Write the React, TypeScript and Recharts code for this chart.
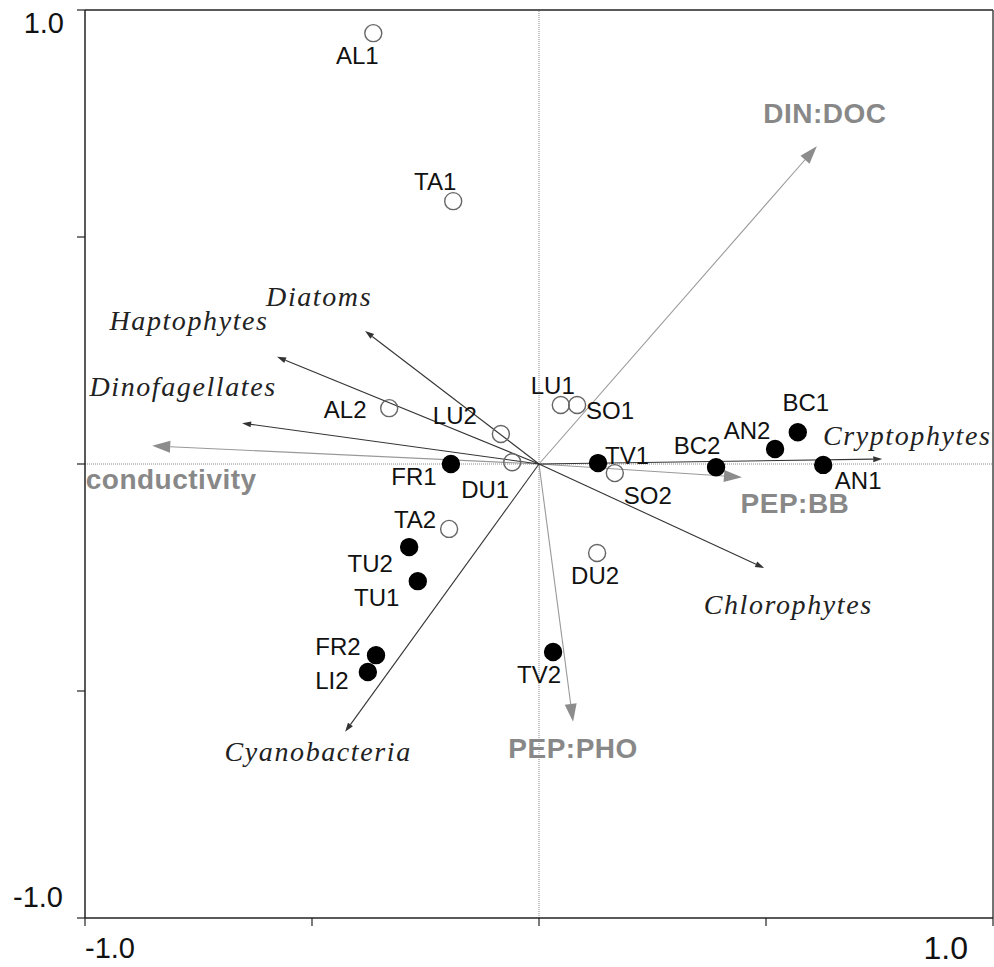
import { ScatterChart, Scatter, XAxis, YAxis, ReferenceLine } from 'recharts'

// site scores (open = first sampling, filled = second)
const openSites = [
  { name: 'AL1', x: -0.365, y: 0.949 },
  { name: 'TA1', x: -0.189, y: 0.579 },
  { name: 'AL2', x: -0.33, y: 0.123 },
  { name: 'LU2', x: -0.084, y: 0.066 },
  { name: 'DU1', x: -0.059, y: 0.004 },
  { name: 'LU1', x: 0.048, y: 0.13 },
  { name: 'SO1', x: 0.084, y: 0.13 },
  { name: 'SO2', x: 0.167, y: -0.02 },
  { name: 'TA2', x: -0.198, y: -0.143 },
  { name: 'DU2', x: 0.128, y: -0.196 },
]

const filledSites = [
  { name: 'FR1', x: -0.194, y: 0.0 },
  { name: 'TV1', x: 0.13, y: 0.002 },
  { name: 'BC2', x: 0.39, y: -0.007 },
  { name: 'AN2', x: 0.52, y: 0.033 },
  { name: 'BC1', x: 0.57, y: 0.07 },
  { name: 'AN1', x: 0.626, y: -0.002 },
  { name: 'TU2', x: -0.286, y: -0.183 },
  { name: 'TU1', x: -0.267, y: -0.258 },
  { name: 'FR2', x: -0.359, y: -0.421 },
  { name: 'LI2', x: -0.377, y: -0.458 },
  { name: 'TV2', x: 0.031, y: -0.414 },
]

// species (response) arrows
const speciesArrows = [
  { name: 'Diatoms', x: -0.383, y: 0.293 },
  { name: 'Haptophytes', x: -0.577, y: 0.236 },
  { name: 'Dinofagellates', x: -0.654, y: 0.09 },
  { name: 'Cryptophytes', x: 0.756, y: 0.011 },
  { name: 'Chlorophytes', x: 0.496, y: -0.229 },
  { name: 'Cyanobacteria', x: -0.427, y: -0.59 },
]

// explanatory variables
const envArrows = [
  { name: 'DIN:DOC', x: 0.612, y: 0.7 },
  { name: 'conductivity', x: -0.852, y: 0.04 },
  { name: 'PEP:BB', x: 0.447, y: -0.029 },
  { name: 'PEP:PHO', x: 0.075, y: -0.568 },
]

const axisTicks = [-1, -0.5, 0, 0.5, 1]

// label placement, px from the point / arrow tip
const siteLabelOffset: Record<string, [number, number]> = {
  AL1: [-16, 22], TA1: [-18, -20], AL2: [-44, 1], LU2: [-46, -19], DU1: [-27, 27],
  LU1: [-8, -20], SO1: [33, 5], SO2: [33, 22], TA2: [-34, -10], DU2: [-2, 22],
  FR1: [-37, 12], TV1: [29, -8], BC2: [-19, -22], AN2: [-28, -19], BC1: [8, -30],
  AN1: [35, 15], TU2: [-39, 16], TU1: [-41, 16], FR2: [-38, -9], LI2: [-36, 8], TV2: [-14, 22],
}

const arrowLabelOffset: Record<string, [number, number]> = {
  Diatoms: [-46, -33], Haptophytes: [-88, -35], Dinofagellates: [-59, -36],
  Cryptophytes: [25, -22], Chlorophytes: [24, 38], Cyanobacteria: [-27, 21],
  'DIN:DOC': [8, -33], conductivity: [19, 33], 'PEP:BB': [53, 26], 'PEP:PHO': [0, 26],
}

const sans = '"Liberation Sans", Arial, sans-serif'
const serif = '"Liberation Serif", "Times New Roman", serif'

const arrowShape = (name: string, env: boolean) => (props: any) => {
  const { x1, y1, x2, y2 } = props
  const ang = Math.atan2(y2 - y1, x2 - x1)
  const len = env ? 18 : 9
  const half = env ? 6 : 3
  const bx = x2 - len * Math.cos(ang)
  const by = y2 - len * Math.sin(ang)
  const px = -Math.sin(ang) * half
  const py = Math.cos(ang) * half
  const [dx, dy] = arrowLabelOffset[name]
  const col = env ? '#8c8c8c' : '#333'
  return (
    <g>
      <line x1={x1} y1={y1} x2={bx} y2={by} stroke={env ? '#999' : '#333'} strokeWidth={1.1} />
      <polygon points={`${x2},${y2} ${bx + px},${by + py} ${bx - px},${by - py}`} fill={col} />
      {env ? (
        <text x={x2 + dx} y={y2 + dy} dy="0.36em" textAnchor="middle" fontFamily={sans}
          fontWeight="bold" fontSize={28} letterSpacing={0.5} fill="#888">{name}</text>
      ) : (
        <text x={x2 + dx} y={y2 + dy} dy="0.3em" textAnchor="middle" fontFamily={serif}
          fontStyle="italic" fontSize={28} letterSpacing={1.6} fill="#222">{name}</text>
      )}
    </g>
  )
}

const siteShape = (filled: boolean) => (props: any) => {
  const { cx, cy, payload } = props
  const [dx, dy] = siteLabelOffset[payload.name]
  return (
    <g>
      <circle cx={cx} cy={cy} r={8.5} fill={filled ? '#000' : 'none'}
        stroke={filled ? '#000' : '#666'} strokeWidth={1.4} />
      <text x={cx + dx} y={cy + dy} dy="0.36em" textAnchor="middle" fontFamily={sans}
        fontSize={24} fill="#111">{payload.name}</text>
    </g>
  )
}

const XTick = (props: any) => {
  const { x, y, payload } = props
  if (payload.value === -1)
    return <text x={x} y={y + 30} textAnchor="start" fontFamily={sans} fontSize={29} fill="#111">-1.0</text>
  if (payload.value === 1)
    return <text x={x - 25} y={y + 31} textAnchor="end" fontFamily={sans} fontSize={32} fill="#111">1.0</text>
  return <g />
}

const YTick = (props: any) => {
  const { x, y, payload } = props
  if (payload.value === 1)
    return <text x={x - 11} y={y + 23} textAnchor="end" fontFamily={sans} fontSize={29} fill="#111">1.0</text>
  if (payload.value === -1)
    return <text x={x - 12} y={y - 11} textAnchor="end" fontFamily={sans} fontSize={29} fill="#111">-1.0</text>
  return <g />
}

export default function App() {
  return (
    <div style={{ position: 'absolute', left: 0, top: 0, background: '#fff' }}>
      <ScatterChart width={994} height={967} margin={{ top: 10, right: 1, bottom: 0, left: 0 }}>
        <XAxis type="number" dataKey="x" domain={[-1, 1]} ticks={axisTicks} interval={0}
          height={49} tickSize={8} tickMargin={2} tick={XTick}
          axisLine={{ stroke: '#222', strokeWidth: 1.5 }} tickLine={{ stroke: '#222', strokeWidth: 1.2 }} />
        <YAxis type="number" dataKey="y" domain={[-1, 1]} ticks={axisTicks} interval={0}
          width={85} tickSize={8} tickMargin={2} tick={YTick}
          axisLine={{ stroke: '#222', strokeWidth: 1.5 }} tickLine={{ stroke: '#222', strokeWidth: 1.2 }} />
        <ReferenceLine y={1} stroke="#222" strokeWidth={1.5} />
        <ReferenceLine x={1} stroke="#444" strokeWidth={1.5} />
        <ReferenceLine x={0} stroke="#888" strokeDasharray="1 1" />
        <ReferenceLine y={0} stroke="#888" strokeDasharray="1 1" />
        {envArrows.map((a) => (
          <ReferenceLine key={a.name} segment={[{ x: 0, y: 0 }, { x: a.x, y: a.y }]}
            shape={arrowShape(a.name, true)} />
        ))}
        {speciesArrows.map((a) => (
          <ReferenceLine key={a.name} segment={[{ x: 0, y: 0 }, { x: a.x, y: a.y }]}
            shape={arrowShape(a.name, false)} />
        ))}
        <Scatter data={openSites} shape={siteShape(false)} isAnimationActive={false} />
        <Scatter data={filledSites} shape={siteShape(true)} isAnimationActive={false} />
      </ScatterChart>
    </div>
  )
}
